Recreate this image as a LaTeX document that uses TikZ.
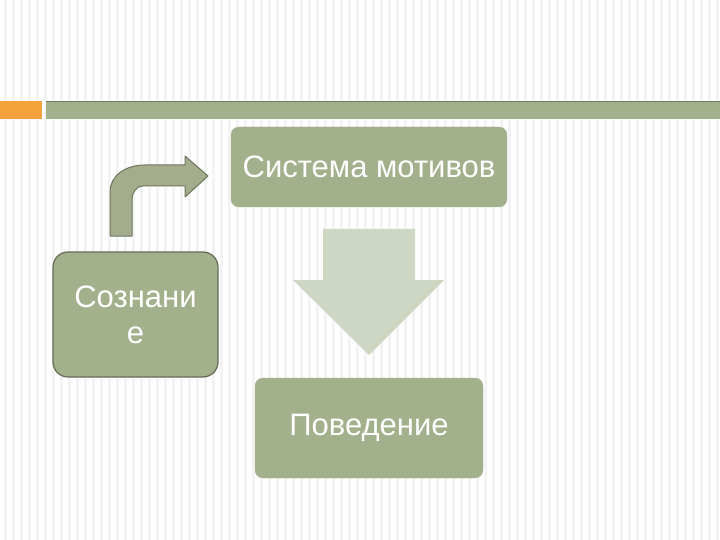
\documentclass[tikz,border=0pt]{standalone}
\usepackage{fontspec}
\setmainfont{Liberation Sans}
\definecolor{boxgreen}{HTML}{A2B08C}
\definecolor{bargreen}{HTML}{A2B08C}
\definecolor{barorange}{HTML}{F4A23C}
\definecolor{arrowlight}{HTML}{CED7C4}
\definecolor{bentfill}{HTML}{A3AD8C}
\definecolor{bentdraw}{HTML}{6E765F}
\definecolor{stripe}{HTML}{F3F3F3}
\tikzset{
  gbox/.style={fill=boxgreen, draw=boxgreen!90!white, rounded corners=8pt, text=white, font=\fontsize{31}{35}\selectfont, align=center, inner sep=0pt},
}
\begin{document}
\begin{tikzpicture}[x=1pt,y=-1pt]
\useasboundingbox (0,0) rectangle (720,540);
\fill[white] (0,0) rectangle (720,540);
\foreach \i in {0,...,90} {
  \fill[stripe] ({\i*8+4},0) rectangle ({\i*8+6.5},540);
}
% header bars
\fill[barorange] (0,101) rectangle (42,119);
\fill[bargreen] (46,101) rectangle (720,119);
\draw[bargreen!70!black, line width=0.8pt] (46,101.5) -- (720,101.5);
% boxes
\node[gbox, minimum width=276pt, minimum height=80pt] (sys) at (369,167) {Система мотивов};
\node[gbox, minimum width=228pt, minimum height=100pt] (beh) at (369,428) {Поведение};
\node[gbox, draw=bentdraw!90!black, line width=1.2pt, rounded corners=15pt, minimum width=165pt, minimum height=125pt] (con) at (135.5,314.5) {Сознани\\[1pt]е};
% down arrow
\fill[arrowlight] (323,229) -- (415,229) -- (415,280) -- (444,280) -- (369,355) -- (293,280) -- (323,280) -- cycle;
% bent arrow
\filldraw[fill=bentfill, draw=bentdraw, line width=1pt, line join=round]
  (110,236) -- (110,192) .. controls (110,176) and (125,165) .. (145,165)
  -- (185,165) -- (185,156) -- (208,176) -- (185,197) -- (185,186)
  -- (143,186) .. controls (137,186) and (132,192) .. (132,199)
  -- (132,236) -- cycle;
\end{tikzpicture}
\end{document}
